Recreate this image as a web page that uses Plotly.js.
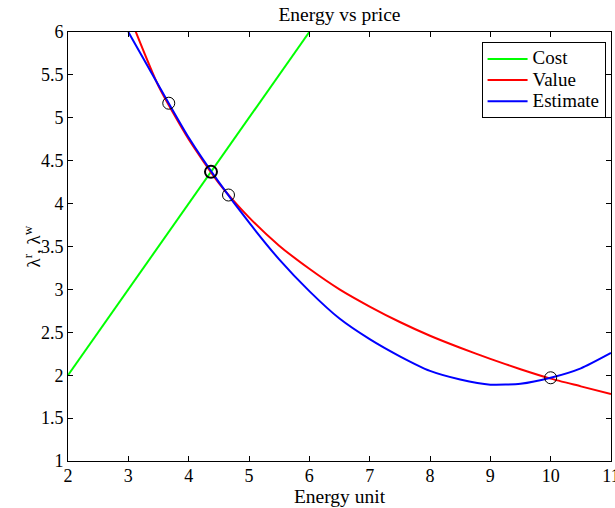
<!DOCTYPE html>
<html>
<head>
<meta charset="utf-8">
<script src="https://cdn.plot.ly/plotly-3.0.1.min.js"></script>
<style>
  html, body { margin: 0; padding: 0; background: #fff; }
  #chart { width: 615px; height: 508px; }
</style>
</head>
<body>
<div id="chart"></div>
<script>
// Energy grid shared by the curves
const energy = [3.0, 3.5, 4.0, 4.5, 5.0, 5.5, 6.0, 6.5, 7.0, 7.5, 8.0, 8.5, 9.0, 9.5, 10.0, 10.5, 11.0];

// Cost grows linearly with energy
const costX = [2, 6];
const costY = [2, 6];

// Value curve
const valueY = [6.22, 5.37, 4.75, 4.24, 3.84, 3.51, 3.24, 3.00, 2.80, 2.62, 2.46, 2.32, 2.19, 2.07, 1.96, 1.87, 1.78];

// Estimate curve
const estimateY = [6.00, 5.38, 4.77, 4.25, 3.78, 3.35, 2.98, 2.66, 2.42, 2.22, 2.05, 1.95, 1.89, 1.90, 1.97, 2.08, 2.26];

// Marked points where the estimate meets the value curve
const touchX = [3.67, 4.66, 10.0];
const touchY = [5.17, 4.10, 1.97];
// Equilibrium where cost meets value
const eqX = [4.37];
const eqY = [4.37];

// Axis tick labels
const xTicks = [2, 3, 4, 5, 6, 7, 8, 9, 10, 11];
const yTicks = [1, 1.5, 2, 2.5, 3, 3.5, 4, 4.5, 5, 5.5, 6];
const yTickText = ["1", "1.5", "2", "2.5", "3", "3.5", "4", "4.5", "5", "5.5", "6"];

// Series names
const seriesNames = ["Cost", "Value", "Estimate"];

const serif = "Liberation Serif, Times New Roman, serif";
// legend entries use a compact row height with a larger glyph size
const legendLabel = s => '<span style="font-size:19px">' + s + '</span>';

const traces = [
  { x: costX, y: costY, mode: "lines", name: legendLabel(seriesNames[0]),
    line: { color: "#00ff00", width: 2 } },
  { x: energy, y: valueY, mode: "lines", name: legendLabel(seriesNames[1]),
    line: { color: "#ff0000", width: 2, shape: "spline", smoothing: 0.6 } },
  { x: energy, y: estimateY, mode: "lines", name: legendLabel(seriesNames[2]),
    line: { color: "#0000ff", width: 2, shape: "spline", smoothing: 0.6 } },
  { x: touchX, y: touchY, mode: "markers", showlegend: false,
    marker: { symbol: "circle-open", size: 12, color: "#000", line: { width: 1 } } },
  { x: eqX, y: eqY, mode: "markers", showlegend: false,
    marker: { symbol: "circle-open", size: 12, color: "#000", line: { width: 2 } } }
];

const axisCommon = {
  showgrid: false, zeroline: false,
  showline: true, linecolor: "#000", linewidth: 1,
  mirror: "ticks", ticks: "inside", ticklen: 5, tickcolor: "#000",
  ticklabeloverflow: "allow",
  tickfont: { family: serif, size: 18, color: "#000" }
};

const layout = {
  width: 615, height: 508,
  margin: { l: 68, r: 4, t: 32, b: 47 },
  paper_bgcolor: "#fff", plot_bgcolor: "#fff",
  title: { text: "Energy vs price", font: { family: serif, size: 19.5, color: "#000" },
           x: 0.552, xanchor: "center", y: 0.972, yanchor: "middle" },
  xaxis: Object.assign({}, axisCommon, {
    range: [2, 11], tickvals: xTicks, ticklabelstandoff: -2,
    title: { text: "Energy unit", font: { family: serif, size: 19.5, color: "#000" }, standoff: 0 }
  }),
  yaxis: Object.assign({}, axisCommon, {
    range: [1, 6], tickvals: yTicks, ticktext: yTickText
  }),
  // vertical axis caption, placed close to the tick labels
  annotations: [{
    text: "λ<sup>r</sup>, λ<sup>w</sup>", textangle: -90,
    xref: "paper", yref: "paper", x: -0.068, y: 0.5,
    xanchor: "center", yanchor: "middle", showarrow: false,
    font: { family: serif, size: 19, color: "#000" }
  }],
  legend: {
    x: 0.99, xanchor: "right", y: 0.976, yanchor: "top",
    bgcolor: "#fff", bordercolor: "#000", borderwidth: 1,
    font: { family: serif, size: 14, color: "#000" },
    tracegroupgap: 0, itemwidth: 40
  },
  showlegend: true
};

Plotly.newPlot("chart", traces, layout, { displayModeBar: false, staticPlot: true });
</script>
</body>
</html>
